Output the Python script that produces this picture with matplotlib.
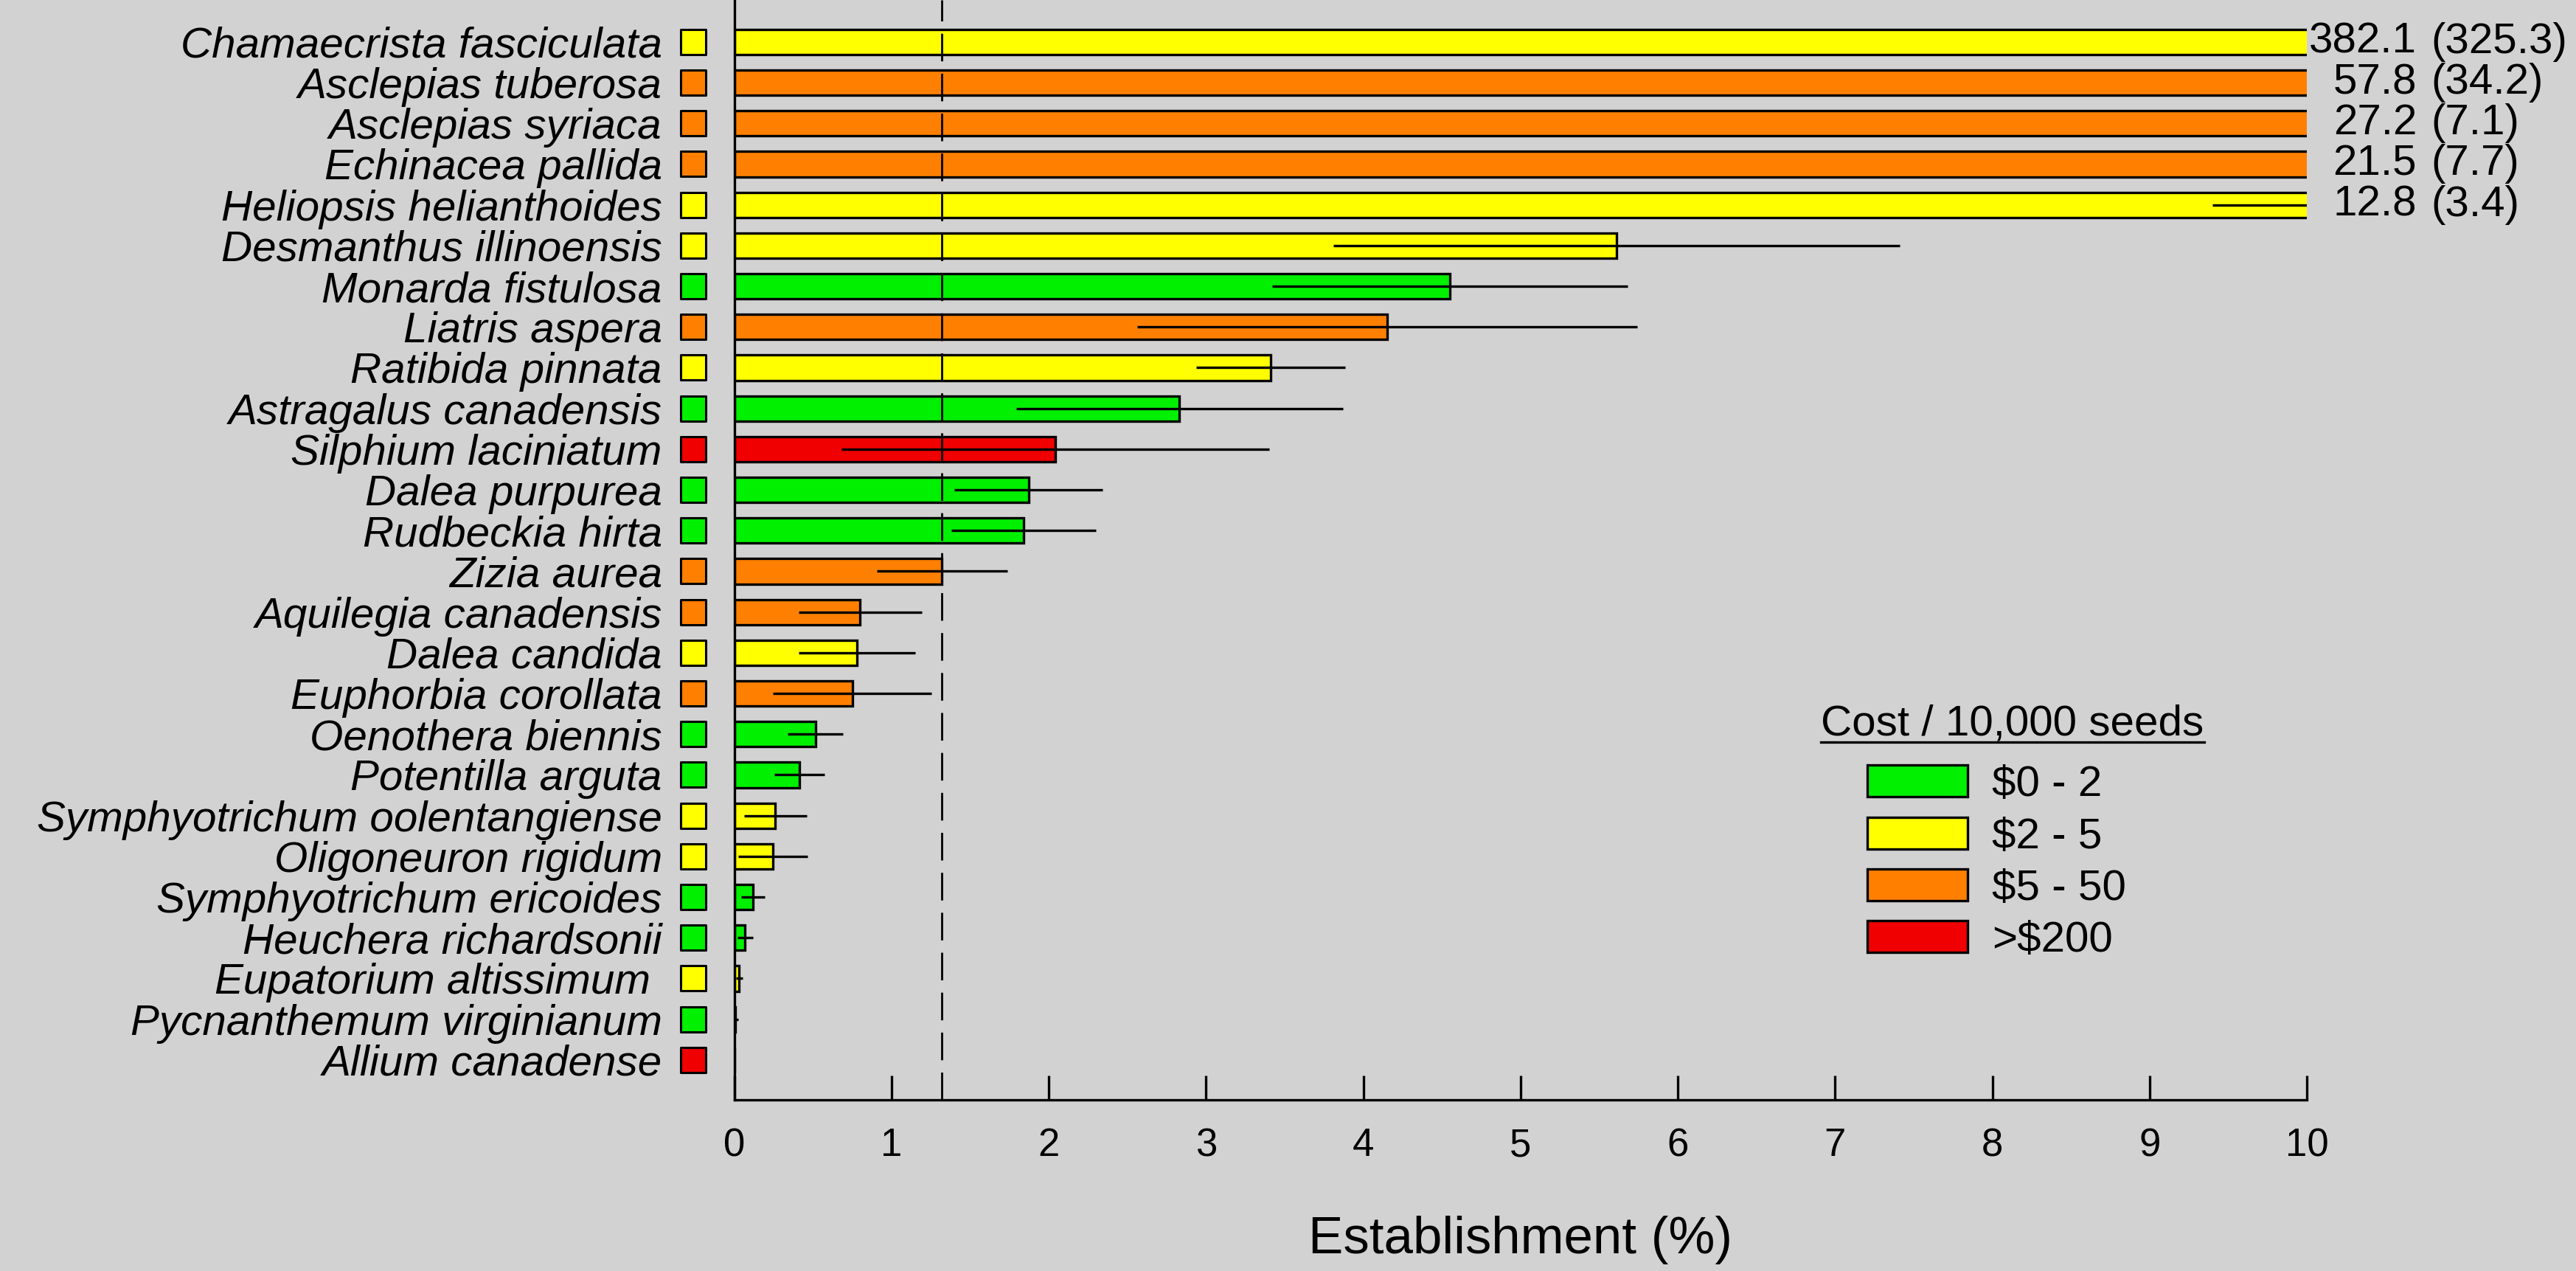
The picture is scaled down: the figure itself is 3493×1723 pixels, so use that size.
import matplotlib
matplotlib.use('Agg')
import matplotlib.pyplot as plt
from matplotlib.patches import Patch
from matplotlib.lines import Line2D

species = ['Chamaecrista fasciculata', 'Asclepias tuberosa', 'Asclepias syriaca',
           'Echinacea pallida', 'Heliopsis helianthoides', 'Desmanthus illinoensis',
           'Monarda fistulosa', 'Liatris aspera', 'Ratibida pinnata',
           'Astragalus canadensis', 'Silphium laciniatum', 'Dalea purpurea',
           'Rudbeckia hirta', 'Zizia aurea', 'Aquilegia canadensis', 'Dalea candida',
           'Euphorbia corollata', 'Oenothera biennis', 'Potentilla arguta',
           'Symphyotrichum oolentangiense', 'Oligoneuron rigidum',
           'Symphyotrichum ericoides', 'Heuchera richardsonii', 'Eupatorium altissimum ',
           'Pycnanthemum virginianum', 'Allium canadense']

# 0: $0-2, 1: $2-5, 2: $5-50, 3: >$200
cost_class = [1, 2, 2, 2, 1, 1, 0, 2, 1, 0, 3, 0, 0, 2, 2, 1, 2, 0, 0, 1, 1, 0, 0, 1, 0, 3]

establishment = [382.1, 57.8, 27.2, 21.5, 12.8, 5.61, 4.55, 4.15, 3.41, 2.83, 2.04, 1.87,
                 1.84, 1.32, 0.80, 0.78, 0.75, 0.515, 0.415, 0.26, 0.245, 0.12, 0.068,
                 0.03, 0.004, 0.0]
se = [325.3, 34.2, 7.1, 7.7, 3.4, 1.80, 1.13, 1.59, 0.475, 1.04, 1.36, 0.47, 0.46, 0.415,
      0.39, 0.37, 0.505, 0.175, 0.16, 0.2, 0.22, 0.075, 0.05, 0.022, 0.02, 0.0]

cost_labels = [r'\$0 - 2', r'\$2 - 5', r'\$5 - 50', r'>\$200']
cost_colors = ['#00f000', '#ffff00', '#ff8000', '#f00000']
threshold = 1.317
xticks = list(range(0, 11))
xmax = 10

plt.rcParams['font.family'] = ['Liberation Sans', 'DejaVu Sans']
plt.rcParams['lines.scale_dashes'] = False
bg = '#d3d2d3'

fig = plt.figure(figsize=(34.93, 17.23), dpi=100, facecolor=bg)
ax = fig.add_axes([0.2851, 0.1347, 0.6104, 0.8653])
ax.set_facecolor(bg)

y = list(range(len(species)))
colors = [cost_colors[c] for c in cost_class]

ax.barh(y, establishment, height=0.62, color=colors, edgecolor='black', linewidth=2.4, zorder=2)
ax.errorbar(establishment, y, xerr=se, fmt='none', ecolor='black', elinewidth=2.4,
            capsize=0, zorder=3)
ax.scatter([-0.263] * len(y), y, marker='s', s=600, c=colors, edgecolors='black',
           linewidths=2.2, clip_on=False, zorder=3)
ax.axvline(threshold, color='black', linewidth=2.0, dashes=(27, 12), zorder=4)

# values off the scale
for i, v in enumerate(establishment):
    if v > xmax:
        ax.text(10.70, i, f'{v:.1f}', ha='right', va='center', fontsize=42)
        ax.text(10.79, i, f'({se[i]:.1f})', ha='left', va='center', fontsize=42)

ax.set_xlim(0, xmax)
ax.set_ylim(25.98, -1.03)
ax.set_xticks(xticks)
ax.set_yticks(y, species, fontstyle='italic')
ax.tick_params(axis='x', direction='in', length=24, width=2.4, pad=27, labelsize=38)
ax.tick_params(axis='y', length=0, pad=70.6, labelsize=42)
for s in ['top', 'right']:
    ax.spines[s].set_visible(False)
for s in ['left', 'bottom']:
    ax.spines[s].set_linewidth(2.4)
ax.set_xlabel('Establishment (%)', fontsize=51, labelpad=50)

handles = [Patch(facecolor=c, edgecolor='black', linewidth=2.4, label=l)
           for c, l in zip(cost_colors, cost_labels)]
ax.legend(handles=handles, loc='upper left', bbox_to_anchor=(0.7249, 0.398),
          bbox_transform=fig.transFigure, frameon=False, fontsize=42,
          handlelength=2.33, handleheight=0.76, handletextpad=0.57,
          labelspacing=0.28, borderpad=0, borderaxespad=0)

title = fig.text(0.7813, 0.4214, 'Cost / 10,000 seeds', ha='center', va='baseline', fontsize=42)
fig.canvas.draw()
bb = title.get_window_extent().transformed(fig.transFigure.inverted())
fig.add_artist(Line2D([bb.x0, bb.x1], [0.4162, 0.4162], color='black', linewidth=2.4,
                      transform=fig.transFigure))

fig.savefig('out.png', dpi=100, facecolor=bg)
